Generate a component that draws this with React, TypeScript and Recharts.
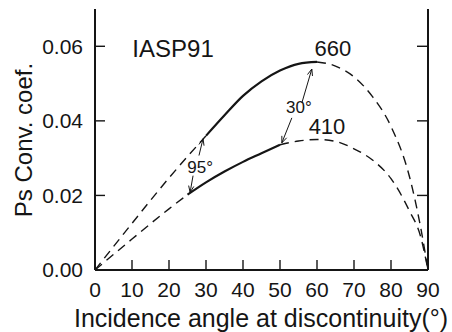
import { LineChart, Line, XAxis, YAxis, ReferenceLine, ReferenceDot } from 'recharts';

// incidence angle (deg) / Ps conversion coefficient
const a660Left = [0, 10, 20, 30];
const v660Left = [0, 0.0125, 0.0247, 0.036];
const a660Mid = [30, 35, 40, 45, 50, 55, 60];
const v660Mid = [0.036, 0.0415, 0.0467, 0.0506, 0.0535, 0.0553, 0.0558];
const a660Right = [60, 65, 70, 75, 80, 85, 88, 90];
const v660Right = [0.0558, 0.0547, 0.0518, 0.0465, 0.0385, 0.025, 0.0115, 0];

const a410Left = [0, 10, 20, 25];
const v410Left = [0, 0.0083, 0.0164, 0.0202];
const a410Mid = [25, 30, 35, 40, 45, 50];
const v410Mid = [0.0202, 0.0235, 0.0264, 0.029, 0.0313, 0.0336];
const a410Right = [50, 55, 60, 65, 70, 75, 80, 85, 88, 90];
const v410Right = [0.0336, 0.0346, 0.035, 0.0345, 0.0325, 0.0295, 0.0245, 0.0158, 0.009, 0];

const xTicks = [0, 10, 20, 30, 40, 50, 60, 70, 80, 90];
const yTicks = [0, 0.02, 0.04, 0.06];

// annotation arrows [from, to] in data coords
const arrows = [
  [[28.1, 0.0307], [29.2, 0.0352]],
  [[26.5, 0.0253], [25.7, 0.0208]],
  [[55.9, 0.0448], [58.6, 0.0539]],
  [[53.2, 0.0408], [50.5, 0.0341]],
];
const notes = [
  { text: 'IASP91', a: 21.1, v: 0.0595, size: 24 },
  { text: '660', a: 64.3, v: 0.0595, size: 22 },
  { text: '410', a: 62.7, v: 0.0384, size: 22 },
  { text: '95°', a: 28.4, v: 0.0275, size: 17 },
  { text: '30°', a: 55.1, v: 0.0435, size: 17 },
];

const toRows = (xs: number[], ys: number[]) => xs.map((a, i) => ({ a, v: ys[i] }));

const INK = '#151515';
const FONT = '"Liberation Sans", Arial, Helvetica, sans-serif';

const Arrow = (p: any) => {
  const { x1, y1, x2, y2 } = p;
  const ang = Math.atan2(y2 - y1, x2 - x1);
  const L = 7;
  const w = 0.38;
  const h1 = [x2 + L * Math.cos(ang + Math.PI - w), y2 + L * Math.sin(ang + Math.PI - w)];
  const h2 = [x2 + L * Math.cos(ang + Math.PI + w), y2 + L * Math.sin(ang + Math.PI + w)];
  return (
    <g>
      <line x1={x1} y1={y1} x2={x2} y2={y2} stroke={INK} strokeWidth={1} />
      <polyline points={`${h1[0]},${h1[1]} ${x2},${y2} ${h2[0]},${h2[1]}`} fill="none" stroke={INK} strokeWidth={1} />
    </g>
  );
};

// inward tick marks: short stubs at the ends of a full-height / full-width reference line
const XTickMark = (p: any) => {
  const bottom = Math.max(p.y1, p.y2);
  return <line x1={p.x1} y1={bottom} x2={p.x1} y2={bottom - 10} stroke={INK} strokeWidth={1.4} />;
};
const YTickMark = (p: any) => {
  const l = Math.min(p.x1, p.x2);
  const r = Math.max(p.x1, p.x2);
  return (
    <g>
      <line x1={l} y1={p.y1} x2={l + 10} y2={p.y1} stroke={INK} strokeWidth={1.4} />
      <line x1={r - 11} y1={p.y1} x2={r} y2={p.y1} stroke={INK} strokeWidth={1.4} />
    </g>
  );
};

const series = [
  { key: '660l', data: toRows(a660Left, v660Left), dash: true },
  { key: '660m', data: toRows(a660Mid, v660Mid), dash: false },
  { key: '660r', data: toRows(a660Right, v660Right), dash: true },
  { key: '410l', data: toRows(a410Left, v410Left), dash: true },
  { key: '410m', data: toRows(a410Mid, v410Mid), dash: false },
  { key: '410r', data: toRows(a410Right, v410Right), dash: true },
];

export default function App() {
  return (
    <div style={{ position: 'absolute', left: 0, top: 0, background: '#fff' }}>
      <LineChart width={452} height={332} margin={{ top: 9, right: 0, bottom: 0, left: 0 }} style={{ fontFamily: FONT }}>
        <XAxis
          dataKey="a"
          type="number"
          domain={[0, 90]}
          ticks={xTicks}
          interval={0}
          height={62}
          tickSize={0}
          tickMargin={12}
          axisLine={{ stroke: INK, strokeWidth: 2 }}
          tickLine={false}
          tick={{ fill: INK, fontSize: 21, fontFamily: FONT }}
          label={{
            value: 'Incidence angle at discontinuity(°)',
            content: () => (
              <text x={261} y={327} textAnchor="middle" fill={INK} fontSize={25} fontFamily={FONT}>
                Incidence angle at discontinuity(°)
              </text>
            ),
          }}
        />
        <XAxis xAxisId="top" orientation="top" type="number" domain={[0, 90]} height={0} tick={false} tickLine={false} axisLine={{ stroke: INK, strokeWidth: 2 }} />
        <YAxis
          type="number"
          domain={[0, 0.07]}
          ticks={yTicks}
          interval={0}
          width={95}
          tickSize={0}
          tickMargin={12}
          tickFormatter={(v: number) => v.toFixed(2)}
          axisLine={{ stroke: INK, strokeWidth: 2 }}
          tickLine={false}
          tick={{ fill: INK, fontSize: 21, fontFamily: FONT }}
          label={{
            value: 'Ps Conv. coef.',
            content: () => (
              <text x={32} y={140} transform="rotate(-90 32 140)" textAnchor="middle" fill={INK} fontSize={24} fontFamily={FONT}>
                Ps Conv. coef.
              </text>
            ),
          }}
        />
        <YAxis yAxisId="right" orientation="right" type="number" domain={[0, 0.07]} width={24} tick={false} tickLine={false} axisLine={{ stroke: INK, strokeWidth: 2 }} />
        {xTicks.slice(1, -1).map((t) => (
          <ReferenceLine key={'xt' + t} x={t} shape={XTickMark} />
        ))}
        {yTicks.slice(1).map((t) => (
          <ReferenceLine key={'yt' + t} y={t} shape={YTickMark} />
        ))}
        {series.map((s) => (
          <Line
            key={s.key}
            data={s.data}
            dataKey="v"
            type="monotone"
            stroke={INK}
            strokeWidth={s.dash ? 1.4 : 2.2}
            strokeDasharray={s.dash ? '9 6' : undefined}
            dot={false}
            activeDot={false}
            isAnimationActive={false}
          />
        ))}
        {arrows.map((ar, i) => (
          <ReferenceLine
            key={'ar' + i}
            segment={[
              { x: ar[0][0], y: ar[0][1] },
              { x: ar[1][0], y: ar[1][1] },
            ]}
            shape={Arrow}
          />
        ))}
        {notes.map((n) => (
          <ReferenceDot
            key={n.text}
            x={n.a}
            y={n.v}
            r={0}
            shape={(p: any) => (
              <text x={p.cx} y={p.cy} textAnchor="middle" dominantBaseline="central" fill={INK} fontSize={n.size} fontFamily={FONT}>
                {n.text}
              </text>
            )}
          />
        ))}
      </LineChart>
    </div>
  );
}
